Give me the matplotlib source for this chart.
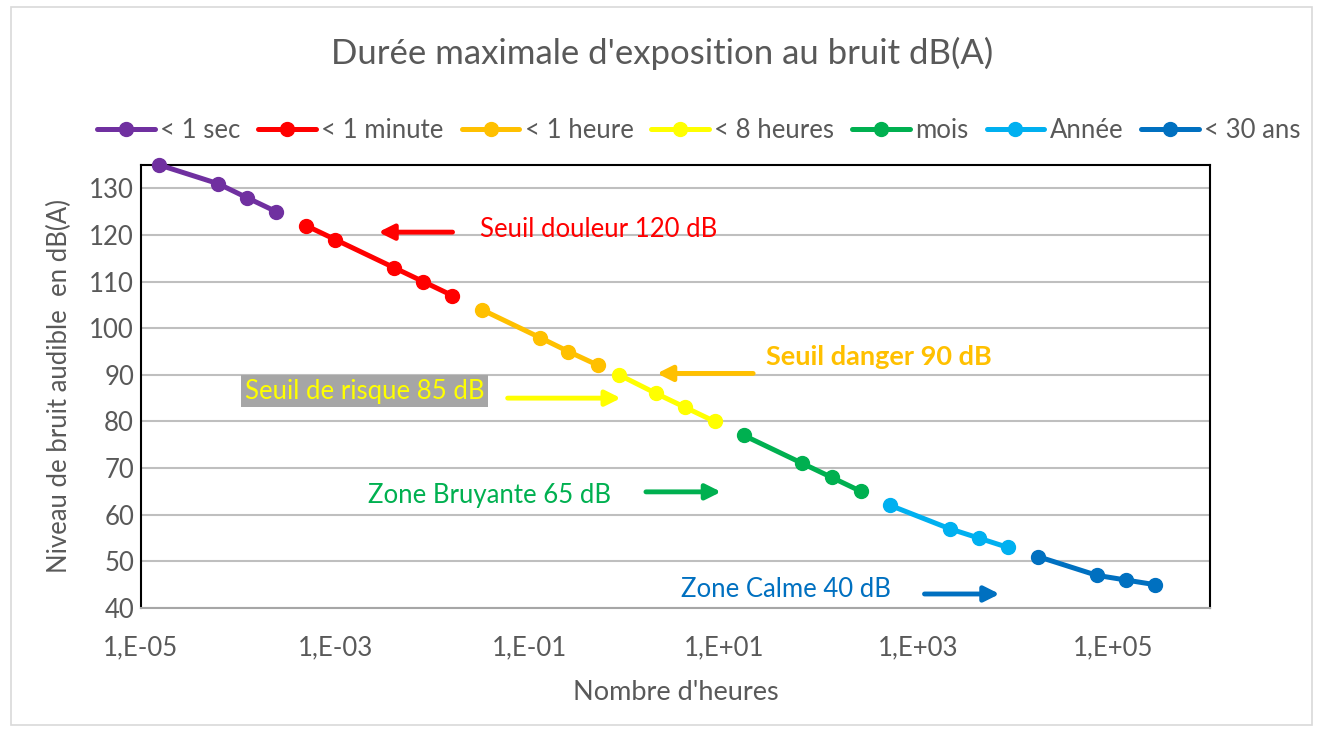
import math
import matplotlib.pyplot as plt
import matplotlib.patches as patches
from matplotlib.ticker import FixedLocator, FuncFormatter, NullLocator

plt.rcParams['font.family'] = ['Lato', 'DejaVu Sans']

# durees (heures) et niveaux dB(A) par serie
labels = ['< 1 sec', '< 1 minute', '< 1 heure', '< 8 heures', 'mois', 'Année', '< 30 ans']
colors = ['#7030a0', '#ff0000', '#ffc000', '#ffff00', '#00b050', '#00b0f0', '#0070c0']

sec_h = [1.55e-5, 6.2e-5, 1.23e-4, 2.46e-4]
sec_db = [135, 131, 128, 125]
min_h = [5.0e-4, 1.0e-3, 4.0e-3, 8.0e-3, 1.6e-2]
min_db = [122, 119, 113, 110, 107]
heure_h = [0.032, 0.127, 0.25, 0.51]
heure_db = [104, 98, 95, 92]
huit_h = [0.83, 2.0, 4.0, 8.0]
huit_db = [90, 86, 83, 80]
mois_h = [16, 64, 128, 256]
mois_db = [77, 71, 68, 65]
annee_h = [512, 2090, 4160, 8280]
annee_db = [62, 57, 55, 53]
ans_h = [17100, 68400, 136000, 271000]
ans_db = [51, 47, 46, 45]

xs = [sec_h, min_h, heure_h, huit_h, mois_h, annee_h, ans_h]
ys = [sec_db, min_db, heure_db, huit_db, mois_db, annee_db, ans_db]

grey = '#595959'
fs = 18.5

fig = plt.figure(figsize=(13.21, 7.31), dpi=100)
ax = fig.add_axes([0.1067, 0.1683, 0.8093, 0.606])

handles = []
for x, y, c, lab in zip(xs, ys, colors, labels):
    h, = ax.plot(x, y, color=c, lw=3.6, marker='o', ms=10, label=lab,
                 solid_capstyle='round', clip_on=False, zorder=3)
    handles.append(h)

ax.set_xscale('log')
ax.set_xlim(1e-5, 1e6)
ax.set_ylim(40, 135)
ax.xaxis.set_major_locator(FixedLocator([1e-5, 1e-3, 1e-1, 1e1, 1e3, 1e5]))
ax.xaxis.set_minor_locator(NullLocator())
ax.xaxis.set_major_formatter(FuncFormatter(lambda v, p: '1,E%+03d' % round(math.log10(v))))
ax.set_yticks(range(40, 131, 10))
ax.grid(axis='y', color='#bfbfbf', lw=1.5)
ax.set_axisbelow(True)
ax.tick_params(length=0, labelsize=fs, labelcolor=grey, pad=5)
ax.tick_params(axis='x', pad=20)
for s in ['left', 'top', 'right']:
    ax.spines[s].set_color('black')
    ax.spines[s].set_linewidth(1.5)
ax.spines['bottom'].set_color('#a6a6a6')
ax.spines['bottom'].set_linewidth(1.5)

ax.set_xlabel("Nombre d'heures", fontsize=19.5, color=grey, labelpad=14)
ax.set_ylabel('Niveau de bruit audible  en dB(A)', fontsize=18.5, color=grey, labelpad=12)

fig.text(0.501, 0.927, "Durée maximale d'exposition au bruit dB(A)", ha='center', va='center',
         fontsize=25, color=grey)

fig.legend(handles=handles, loc='center', bbox_to_anchor=(0.529, 0.822), ncol=7, frameon=False,
           fontsize=fs, handlelength=2.25, handletextpad=0.2, columnspacing=0.7, labelcolor=grey)

# annotations
def arrow(x0, x1, y, c):
    ax.annotate('', xy=(x1, y), xytext=(x0, y),
                arrowprops=dict(arrowstyle='-|>,head_length=0.9,head_width=0.45', color=c, lw=3.5,
                                shrinkA=0, shrinkB=0))

ax.text(10**-1.515, 121.2, 'Seuil douleur 120 dB', color='#ff0000', fontsize=fs, va='center')
arrow(10**-1.794, 10**-2.557, 120.6, '#ff0000')
ax.text(10**1.433, 93.8, 'Seuil danger 90 dB', color='#ffc000', fontsize=19.5, va='center',
        fontweight='bold')
arrow(10**1.299, 10**0.309, 90.3, '#ffc000')
ax.text(10**-3.93, 86.5, 'Seuil de risque 85 dB', color='#ffff00', fontsize=fs, va='center',
        bbox=dict(facecolor='#a6a6a6', edgecolor='none', pad=2.5))
arrow(10**-1.227, 10**-0.062, 85.0, '#ffff00')
ax.text(10**-2.66, 64.2, 'Zone Bruyante 65 dB', color='#00b050', fontsize=fs, va='center')
arrow(10**0.196, 10**0.969, 64.9, '#00b050')
ax.text(10**0.557, 43.9, 'Zone Calme 40 dB', color='#0070c0', fontsize=fs, va='center')
arrow(10**3.062, 10**3.835, 43.0, '#0070c0')

fig.patches.append(patches.Rectangle((0.008, 0.008), 0.985, 0.983, transform=fig.transFigure,
                                     fill=False, edgecolor='#d9d9d9', lw=1.2))

fig.savefig('out.png', dpi=100)
